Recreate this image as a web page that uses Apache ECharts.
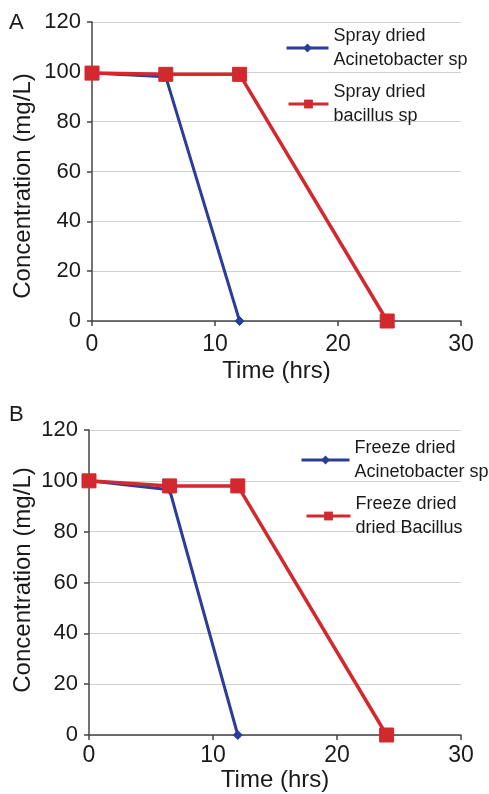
<!DOCTYPE html>
<html>
<head>
<meta charset="utf-8">
<script src="https://cdn.jsdelivr.net/npm/echarts@6/dist/echarts.min.js"></script>
<style>
html,body{margin:0;padding:0;background:#fff;}
#c{width:489px;height:794px;}
</style>
</head>
<body>
<div id="c"></div>
<script>
// ---- data ----
const timesA = [0, 6, 12, 24];
const acinA = [99.5, 98, 0];
const bacA = [99.5, 99, 99, 0];
const timesB = [0, 6.5, 12, 24];
const acinB = [100, 96.5, 0];
const bacB = [100, 98, 98, 0];
const xTicks = [0, 10, 20, 30];
const yTicks = [0, 20, 40, 60, 80, 100, 120];
const namesA = ['Spray dried Acinetobacter sp', 'Spray dried bacillus sp'];
const namesB = ['Freeze dried Acinetobacter sp', 'Freeze dried dried Bacillus'];

const BLUE = '#2c3d99';
const RED = '#d3282e';
const TXT = '#1a1a1a';
const FONT = 'Liberation Sans, Arial, sans-serif';
const zip = (xs, ys) => ys.map((v, i) => [xs[i], v]);

function xAxis(gi) {
  return {
    type: 'value', gridIndex: gi, min: xTicks[0], max: xTicks[xTicks.length - 1], interval: 10,
    name: 'Time (hrs)', nameLocation: 'middle', nameGap: gi === 0 ? 38 : 24,
    nameTextStyle: {fontFamily: FONT, fontSize: 24, color: TXT},
    axisLine: {show: true, onZero: false, lineStyle: {color: '#444', width: 1.5}},
    axisTick: {show: true, inside: false, length: 5, lineStyle: {color: '#444', width: 1.5}},
    axisLabel: {fontFamily: FONT, fontSize: 23, color: TXT, margin: gi === 0 ? 12 : 9},
    splitLine: {show: false}
  };
}
function yAxis(gi) {
  return {
    type: 'value', gridIndex: gi, min: yTicks[0], max: yTicks[yTicks.length - 1], interval: 20,
    axisLine: {show: true, onZero: false, lineStyle: {color: '#444', width: 1.5}},
    axisTick: {show: true, inside: false, length: 5, lineStyle: {color: '#444', width: 1.5}},
    axisLabel: {fontFamily: FONT, fontSize: 22, color: TXT, margin: 11},
    splitLine: {show: true, lineStyle: {color: '#d0d0d0', width: 1}}
  };
}
function lineSeries(name, gi, data, color, symbol, size, width) {
  return {
    name: name, type: 'line', xAxisIndex: gi, yAxisIndex: gi, data: data,
    symbol: symbol, symbolSize: size, showSymbol: true,
    lineStyle: {color: color, width: width},
    itemStyle: {color: color, borderColor: color},
    emphasis: {disabled: true}, z: color === RED ? 3 : 2
  };
}
function legend(name, left, top, w) {
  return {
    data: [name], left: left, top: top, orient: 'vertical',
    itemWidth: w, itemHeight: 11, selectedMode: false,
    lineStyle: {width: 3},
    formatter: n => n.replace(' dried ', ' dried\n'),
    textStyle: {fontFamily: FONT, fontSize: 18, color: TXT, lineHeight: 24}
  };
}

const chart = echarts.init(document.getElementById('c'), null, {renderer: 'canvas'});
chart.setOption({
  backgroundColor: '#ffffff',
  animation: false,
  grid: [
    {left: 92, right: 28, top: 22, bottom: 473},
    {left: 89, right: 28, top: 430, bottom: 59}
  ],
  xAxis: [xAxis(0), xAxis(1)],
  yAxis: [yAxis(0), yAxis(1)],
  legend: [
    legend(namesA[0], 280, 19, 42),
    legend(namesA[1], 282, 75, 40),
    legend(namesB[0], 295, 431, 48),
    legend(namesB[1], 300, 487, 44)
  ],
  graphic: [
    {type: 'text', left: 9, top: 12, style: {text: 'A', font: '22px ' + FONT, fill: TXT}},
    {type: 'text', left: 9, top: 404, style: {text: 'B', font: '22px ' + FONT, fill: TXT}},
    {type: 'text', x: 23, y: 186, rotation: Math.PI / 2,
      style: {text: 'Concentration (mg/L)', font: '24px ' + FONT, fill: TXT, align: 'center', verticalAlign: 'middle'}},
    {type: 'text', x: 23, y: 580, rotation: Math.PI / 2,
      style: {text: 'Concentration (mg/L)', font: '24px ' + FONT, fill: TXT, align: 'center', verticalAlign: 'middle'}}
  ],
  series: [
    lineSeries(namesA[0], 0, zip(timesA, acinA), BLUE, 'diamond', 9, 3),
    lineSeries(namesA[1], 0, zip(timesA, bacA), RED, 'rect', 14, 3.5),
    lineSeries(namesB[0], 1, zip(timesB, acinB), BLUE, 'diamond', 9, 3),
    lineSeries(namesB[1], 1, zip(timesB, bacB), RED, 'rect', 14, 3.5)
  ]
});
</script>
</body>
</html>
